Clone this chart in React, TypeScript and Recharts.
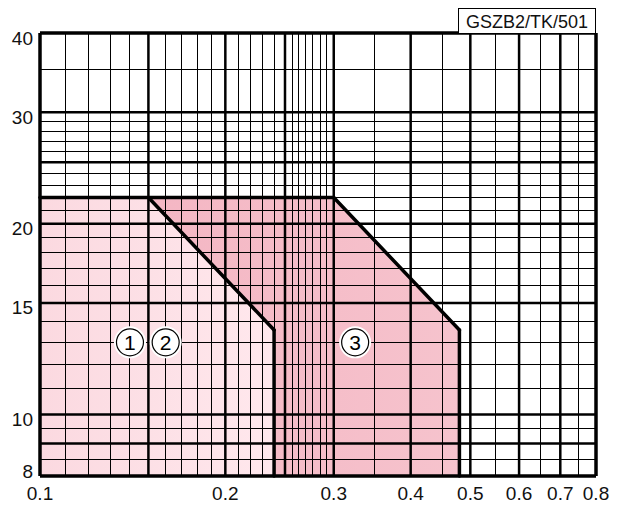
import React from "react";
import { ComposedChart, XAxis, YAxis, Area, ReferenceLine, ReferenceDot } from "recharts";

// Axis ticks
const xTickLabels = [0.1, 0.2, 0.3, 0.4, 0.5, 0.6, 0.7, 0.8];
const yTickLabels = [8, 10, 15, 20, 30, 40];

// Grid lines
const xGridThin = [0.11, 0.12, 0.13, 0.14, 0.16, 0.17, 0.18, 0.19, 0.21, 0.22, 0.23, 0.24, 0.257, 0.263, 0.27, 0.277, 0.285, 0.292, 0.35, 0.45, 0.55, 0.65, 0.75];
const xGridThick = [0.15, 0.2, 0.25, 0.3, 0.4, 0.5, 0.6, 0.7];
const yGridThin = [8.5, 9.5, 11, 12, 13, 14, 16, 17, 18, 19, 21, 22, 23, 24, 26, 27, 28, 29, 35];
const yGridThick = [9, 10, 15, 20, 25, 30];
const xBorder = [0.1, 0.8];
const yBorder = [8, 40];

// Zones (boundary polylines)
const zone3X = [0.1, 0.3, 0.48, 0.48];
const zone3Y = [22, 22, 13.6, 8];
const zone12X = [0.1, 0.15, 0.24, 0.24];
const zone12Y = [22, 22, 13.6, 8];

// Circled zone labels
const markNames = ["1", "2", "3"];
const markX = [0.14, 0.16, 0.325];
const markY = [13, 13, 13];

const title = "GSZB2/TK/501";

const zone3 = zone3X.map((x, i) => ({ x, y: zone3Y[i] }));
const zone12 = zone12X.map((x, i) => ({ x, y: zone12Y[i] }));

const FONT = "'Liberation Sans', Arial, sans-serif";

const segs = (pts: { x: number; y: number }[]) =>
  pts.slice(1).map((p, i) => [pts[i], p]);

const YTick = (props: any) => {
  const { x, y, payload } = props;
  const off = payload.value === yTickLabels[0] ? -5 : 5;
  return (
    <text x={x + 1} y={y + off} textAnchor="end" dominantBaseline="central" fontSize={19} fontFamily={FONT} fill="#111">
      {payload.value}
    </text>
  );
};

const XTick = (props: any) => {
  const { x, y, payload } = props;
  return (
    <text x={x} y={y + 9} textAnchor="middle" dominantBaseline="central" fontSize={19} fontFamily={FONT} fill="#111">
      {payload.value}
    </text>
  );
};

export default function App() {
  return (
    <div style={{ position: "absolute", left: 0, top: 0, width: 629, height: 509, background: "#fff" }}>
      <ComposedChart width={629} height={509} margin={{ top: 33, right: 33, bottom: 0, left: 0 }}>
        <defs>
          <linearGradient id="g12" x1="0" y1="0" x2="1" y2="0">
            <stop offset="0%" stopColor="#fbd9e0" />
            <stop offset="100%" stopColor="#ffe8ed" />
          </linearGradient>
          <linearGradient id="g3" x1="0" y1="0" x2="1" y2="0">
            <stop offset="30%" stopColor="#f4b7c4" />
            <stop offset="100%" stopColor="#f6c3cd" />
          </linearGradient>
        </defs>
        <XAxis
          dataKey="x"
          type="number"
          scale="log"
          domain={[0.1, 0.8]}
          ticks={xTickLabels}
          allowDataOverflow
          axisLine={false}
          tickLine={false}
          height={33}
          tick={<XTick />}
          interval={0}
        />
        <YAxis
          dataKey="y"
          type="number"
          scale="log"
          domain={[8, 40]}
          ticks={yTickLabels}
          allowDataOverflow
          axisLine={false}
          tickLine={false}
          width={40}
          tick={<YTick />}
          interval={0}
        />
        <Area data={zone3} dataKey="y" type="linear" baseValue={8} fill="url(#g3)" fillOpacity={1} stroke="none" isAnimationActive={false} />
        <Area data={zone12} dataKey="y" type="linear" baseValue={8} fill="url(#g12)" fillOpacity={1} stroke="none" isAnimationActive={false} />
        {xGridThin.map((v) => (
          <ReferenceLine key={"xt" + v} x={v} stroke="#000" strokeWidth={1} shapeRendering="crispEdges" />
        ))}
        {yGridThin.map((v) => (
          <ReferenceLine key={"yt" + v} y={v} stroke="#000" strokeWidth={1} shapeRendering="crispEdges" />
        ))}
        {xGridThick.map((v) => (
          <ReferenceLine key={"xk" + v} x={v} stroke="#000" strokeWidth={2.5} />
        ))}
        {yGridThick.map((v) => (
          <ReferenceLine key={"yk" + v} y={v} stroke="#000" strokeWidth={2.5} />
        ))}
        {xBorder.map((v) => (
          <ReferenceLine key={"xb" + v} x={v} stroke="#000" strokeWidth={3.5} />
        ))}
        {yBorder.map((v) => (
          <ReferenceLine key={"yb" + v} y={v} stroke="#000" strokeWidth={3.5} />
        ))}
        {segs(zone3).map((s, i) => (
          <ReferenceLine key={"s3" + i} segment={s} stroke="#000" strokeWidth={3.5} strokeLinecap="round" />
        ))}
        {segs(zone12).slice(1).map((s, i) => (
          <ReferenceLine key={"s12" + i} segment={s} stroke="#000" strokeWidth={3.5} strokeLinecap="round" />
        ))}
        {markNames.map((n, i) => (
          <ReferenceDot key={"h" + n} x={markX[i]} y={markY[i]} r={16} fill="#fff" stroke="none" />
        ))}
        {markNames.map((n, i) => (
          <ReferenceDot
            key={"m" + n}
            x={markX[i]}
            y={markY[i]}
            r={13.5}
            fill="#fff"
            stroke="#000"
            strokeWidth={1.2}
            label={{ value: n, position: "center", fontSize: 21, fontFamily: FONT, fill: "#000" }}
          />
        ))}
      </ComposedChart>
      <div
        style={{
          position: "absolute",
          left: 458,
          top: 8,
          width: 136,
          height: 24,
          border: "1px solid #000",
          borderBottom: "none",
          fontFamily: FONT,
          fontSize: 18,
          lineHeight: "26px",
          textAlign: "center",
          color: "#111",
          background: "#fff",
        }}
      >
        {title}
      </div>
    </div>
  );
}
